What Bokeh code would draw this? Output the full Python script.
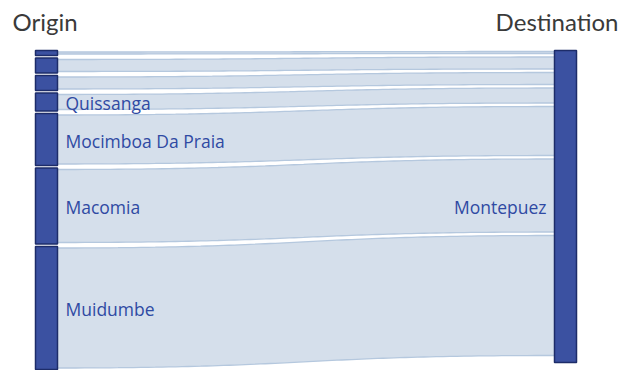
import numpy as np
from bokeh.plotting import figure
from bokeh.models import Range1d, ColumnDataSource
from bokeh.embed import file_html
from bokeh.resources import INLINE
from bokeh.core.properties import value

# ---- data ----
origins = ["Origin 1", "Origin 2", "Origin 3", "Quissanga",
           "Mocimboa Da Praia", "Macomia", "Muidumbe"]
flows = [5, 15, 15, 18, 52, 76, 123]
destination = "Montepuez"
titles = ["Origin", "Destination"]

# ---- layout / style ----
W, H = 637, 370
TOP = 50
GAP_L = 2.5
GAP_R = 3.5
INSET = 1.5
NODE_W = 22
LX = 35
RX = 554
R_BOTTOM = 362
LABEL_MIN = 16
NODE_FILL = "#3B51A1"
NODE_LINE = "#1D2C69"
FLOW_FILL = "#D5DFEB"
FLOW_LINE = "#B5C8DE"
LABEL_COLOR = "#2F4AA3"

p = figure(width=W, height=H, output_backend="svg", toolbar_location=None,
           x_range=Range1d(0, W), y_range=Range1d(H, 0), min_border=0)
p.axis.visible = False
p.grid.visible = False
p.outline_line_color = None
p.background_fill_color = "white"

# left positions
ltops, y = [], TOP
for v in flows:
    ltops.append(y)
    y += v + GAP_L
# right positions of flow ends
rtops, y = [], TOP + 1
for v in flows:
    rtops.append(y)
    y += (v - 2 * INSET) + GAP_R

t = np.linspace(0, 1, 80)
def bez(a, b, c, d):
    return (1-t)**3*a + 3*(1-t)**2*t*b + 3*(1-t)*t**2*c + t**3*d

x0, x1 = LX + NODE_W, RX
xm = (x0 + x1) / 2
xs_curve = bez(x0, xm, xm, x1)
pxs, pys, exs, eys = [], [], [], []
for v, lt, rt in zip(flows, ltops, rtops):
    w = max(v - 2 * INSET, 1)
    a = lt + (v - w) / 2
    top = bez(a, a, rt, rt)
    bot = bez(a + w, a + w, rt + w, rt + w)
    pxs.append(np.concatenate([xs_curve, xs_curve[::-1]]))
    pys.append(np.concatenate([top, bot[::-1]]))
    exs += [xs_curve, xs_curve]
    eys += [top, bot]

p.patches(pxs, pys, fill_color=FLOW_FILL, line_color=None)
p.multi_line(exs, eys, line_color=FLOW_LINE, line_width=1.3)

# nodes
src = ColumnDataSource(dict(
    left=[LX]*len(flows), right=[LX+NODE_W]*len(flows),
    top=ltops, bottom=[a+b for a, b in zip(ltops, flows)]))
p.quad(left="left", right="right", top="top", bottom="bottom", source=src,
       fill_color=NODE_FILL, line_color=NODE_LINE, line_width=1.5)
p.quad(left=[RX], right=[RX+NODE_W], top=[TOP], bottom=[R_BOTTOM],
       fill_color=NODE_FILL, line_color=NODE_LINE, line_width=1.5)

# labels
lx, ly, lt = [], [], []
for name, v, top in zip(origins, flows, ltops):
    if v >= LABEL_MIN:
        lx.append(LX + NODE_W + 8)
        ly.append(top + v/2 + 1)
        lt.append(name)
p.text(lx, ly, text=lt, text_font=value("Open Sans"), text_font_size="17.5px",
       text_color=LABEL_COLOR, text_baseline="middle", text_align="left")
p.text([RX - 8], [(TOP + R_BOTTOM)/2], text=[destination],
       text_font=value("Open Sans"), text_font_size="17.5px",
       text_color=LABEL_COLOR, text_baseline="middle", text_align="right")

# titles
p.text([12], [21], text=[titles[0]], text_font=value("Lato"),
       text_font_size="24px", text_color="#3a3a3a", text_baseline="middle",
       text_align="left")
p.text([618], [21], text=[titles[1]], text_font=value("Lato"),
       text_font_size="24px", text_color="#3a3a3a", text_baseline="middle",
       text_align="right")

open("out.html", "w").write(file_html(p, INLINE))
